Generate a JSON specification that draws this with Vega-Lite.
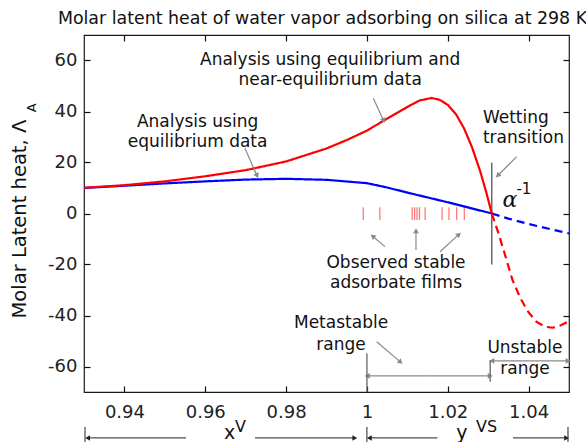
{
  "$schema": "https://vega.github.io/schema/vega-lite/v6.json",
  "width": 485,
  "height": 357,
  "autosize": {"type": "none"},
  "padding": {"left": 84, "top": 35, "right": 17, "bottom": 50},
  "background": "white",
  "config": {
    "font": "DejaVu Sans",
    "view": {"stroke": "#1a1a1a", "strokeWidth": 1.2},
    "axis": {
      "domain": false,
      "grid": false,
      "ticks": true,
      "tickColor": "#111111",
      "tickSize": 6,
      "tickWidth": 1.2,
      "offset": -6,
      "labelFont": "DejaVu Sans",
      "labelFontSize": 18,
      "labelColor": "#222222",
      "title": null
    },
    "text": {"font": "DejaVu Sans", "fontSize": 17, "color": "#111111"}
  },
  "title": {
    "text": "Molar latent heat of water vapor adsorbing on silica at 298 K",
    "font": "DejaVu Sans",
    "fontSize": 17.4,
    "fontWeight": "normal",
    "color": "#111111",
    "anchor": "middle",
    "offset": 7,
    "dx": -4
  },
  "datasets": {
    "curves": [
      {"x": 0.930, "L": 10.0, "analysis": "equilibrium", "branch": "stable"},
      {"x": 0.940, "L": 10.9, "analysis": "equilibrium", "branch": "stable"},
      {"x": 0.950, "L": 11.8, "analysis": "equilibrium", "branch": "stable"},
      {"x": 0.960, "L": 12.6, "analysis": "equilibrium", "branch": "stable"},
      {"x": 0.970, "L": 13.3, "analysis": "equilibrium", "branch": "stable"},
      {"x": 0.980, "L": 13.6, "analysis": "equilibrium", "branch": "stable"},
      {"x": 0.990, "L": 13.2, "analysis": "equilibrium", "branch": "stable"},
      {"x": 1.000, "L": 11.9, "analysis": "equilibrium", "branch": "stable"},
      {"x": 1.005, "L": 10.2, "analysis": "equilibrium", "branch": "stable"},
      {"x": 1.010, "L": 8.2, "analysis": "equilibrium", "branch": "stable"},
      {"x": 1.015, "L": 6.3, "analysis": "equilibrium", "branch": "stable"},
      {"x": 1.020, "L": 4.4, "analysis": "equilibrium", "branch": "stable"},
      {"x": 1.025, "L": 2.4, "analysis": "equilibrium", "branch": "stable"},
      {"x": 1.0309, "L": 0.0, "analysis": "equilibrium", "branch": "stable"},
      {"x": 1.0309, "L": 0.0, "analysis": "equilibrium", "branch": "unstable"},
      {"x": 1.035, "L": -2.0, "analysis": "equilibrium", "branch": "unstable"},
      {"x": 1.040, "L": -4.1, "analysis": "equilibrium", "branch": "unstable"},
      {"x": 1.045, "L": -6.0, "analysis": "equilibrium", "branch": "unstable"},
      {"x": 1.050, "L": -7.8, "analysis": "equilibrium", "branch": "unstable"},
      {"x": 0.930, "L": 10.1, "analysis": "near-equilibrium", "branch": "stable"},
      {"x": 0.940, "L": 11.1, "analysis": "near-equilibrium", "branch": "stable"},
      {"x": 0.950, "L": 12.6, "analysis": "near-equilibrium", "branch": "stable"},
      {"x": 0.960, "L": 14.6, "analysis": "near-equilibrium", "branch": "stable"},
      {"x": 0.970, "L": 17.0, "analysis": "near-equilibrium", "branch": "stable"},
      {"x": 0.980, "L": 20.4, "analysis": "near-equilibrium", "branch": "stable"},
      {"x": 0.990, "L": 25.5, "analysis": "near-equilibrium", "branch": "stable"},
      {"x": 0.995, "L": 28.8, "analysis": "near-equilibrium", "branch": "stable"},
      {"x": 1.000, "L": 32.5, "analysis": "near-equilibrium", "branch": "stable"},
      {"x": 1.005, "L": 37.2, "analysis": "near-equilibrium", "branch": "stable"},
      {"x": 1.010, "L": 41.8, "analysis": "near-equilibrium", "branch": "stable"},
      {"x": 1.013, "L": 44.3, "analysis": "near-equilibrium", "branch": "stable"},
      {"x": 1.016, "L": 45.3, "analysis": "near-equilibrium", "branch": "stable"},
      {"x": 1.018, "L": 44.6, "analysis": "near-equilibrium", "branch": "stable"},
      {"x": 1.020, "L": 42.6, "analysis": "near-equilibrium", "branch": "stable"},
      {"x": 1.022, "L": 39.0, "analysis": "near-equilibrium", "branch": "stable"},
      {"x": 1.024, "L": 33.5, "analysis": "near-equilibrium", "branch": "stable"},
      {"x": 1.026, "L": 26.0, "analysis": "near-equilibrium", "branch": "stable"},
      {"x": 1.028, "L": 16.7, "analysis": "near-equilibrium", "branch": "stable"},
      {"x": 1.0295, "L": 8.5, "analysis": "near-equilibrium", "branch": "stable"},
      {"x": 1.0309, "L": 0.0, "analysis": "near-equilibrium", "branch": "stable"},
      {"x": 1.0309, "L": 0.0, "analysis": "near-equilibrium", "branch": "unstable"},
      {"x": 1.0325, "L": -7.5, "analysis": "near-equilibrium", "branch": "unstable"},
      {"x": 1.034, "L": -15.3, "analysis": "near-equilibrium", "branch": "unstable"},
      {"x": 1.036, "L": -26.0, "analysis": "near-equilibrium", "branch": "unstable"},
      {"x": 1.038, "L": -33.3, "analysis": "near-equilibrium", "branch": "unstable"},
      {"x": 1.040, "L": -38.8, "analysis": "near-equilibrium", "branch": "unstable"},
      {"x": 1.042, "L": -42.5, "analysis": "near-equilibrium", "branch": "unstable"},
      {"x": 1.044, "L": -44.4, "analysis": "near-equilibrium", "branch": "unstable"},
      {"x": 1.046, "L": -44.8, "analysis": "near-equilibrium", "branch": "unstable"},
      {"x": 1.048, "L": -43.8, "analysis": "near-equilibrium", "branch": "unstable"},
      {"x": 1.050, "L": -42.2, "analysis": "near-equilibrium", "branch": "unstable"}
    ],
    "films": [
      {"x": 0.9991}, {"x": 1.0032}, {"x": 1.0112}, {"x": 1.0118}, {"x": 1.0124},
      {"x": 1.0130}, {"x": 1.0144}, {"x": 1.0186}, {"x": 1.0203}, {"x": 1.0222}, {"x": 1.0241}
    ],
    "transition": [
      {"x": 1.0309, "y": -20, "y2": 20}
    ],
    "pointers": [
      {"x": 1.00158, "y": 45.2, "x2": 1.00405, "y2": 36.7, "heading": 155},
      {"x": 0.96983, "y": 25.6, "x2": 0.97273, "y2": 15.1, "heading": 156},
      {"x": 1.03706, "y": 22.3, "x2": 1.03251, "y2": 15.1, "heading": 225},
      {"x": 1.00447, "y": -13.0, "x2": 1.00158, "y2": -9.1, "heading": 310},
      {"x": 1.01214, "y": -14.3, "x2": 1.01214, "y2": -7.1, "heading": 0},
      {"x": 1.01808, "y": -15.0, "x2": 1.02261, "y2": -8.4, "heading": 48},
      {"x": 1.00242, "y": -50.3, "x2": 1.00818, "y2": -58.1, "heading": 131},
      {"x": 1.0153, "y": -63.7, "x2": 1.0003, "y2": -63.7, "heading": 270},
      {"x": 1.0153, "y": -63.7, "x2": 1.0303, "y2": -63.7, "heading": 90},
      {"x": 1.0404, "y": -57.8, "x2": 1.0311, "y2": -57.8, "heading": 270},
      {"x": 1.0404, "y": -57.8, "x2": 1.0496, "y2": -57.8, "heading": 90}
    ],
    "rangeBars": [
      {"x": 1.0, "y": -54.8, "y2": -70},
      {"x": 1.0305, "y": -57.5, "y2": -66}
    ],
    "spans": [
      {"x": 0.95524, "y": -88, "x2": 0.93110, "y2": -88, "heading": 270},
      {"x": 0.97231, "y": -88, "x2": 0.99680, "y2": -88, "heading": 90},
      {"x": 1.01746, "y": -88, "x2": 1.00080, "y2": -88, "heading": 270},
      {"x": 1.03614, "y": -88, "x2": 1.04920, "y2": -88, "heading": 90}
    ],
    "spanBars": [
      {"x": 0.93025, "y": -83.7, "y2": -92},
      {"x": 1.0, "y": -83.7, "y2": -92},
      {"x": 1.04975, "y": -83.7, "y2": -92}
    ],
    "notes": [
      {"x": 0.9909, "y": 60.2, "label": "Analysis using equilibrium and"},
      {"x": 0.9909, "y": 52.4, "label": "near-equilibrium data"},
      {"x": 0.9581, "y": 35.9, "label": "Analysis using"},
      {"x": 0.9581, "y": 28.2, "label": "equilibrium data"},
      {"x": 1.0072, "y": -19.4, "label": "Observed stable"},
      {"x": 1.0072, "y": -27.3, "label": "adsorbate films"},
      {"x": 0.9936, "y": -43.1, "label": "Metastable"},
      {"x": 0.9936, "y": -51.6, "label": "range"},
      {"x": 1.0391, "y": -52.9, "label": "Unstable"},
      {"x": 1.0391, "y": -61.1, "label": "range"}
    ],
    "leftNotes": [
      {"x": 1.0287, "y": 37.3, "label": "Wetting"},
      {"x": 1.0287, "y": 29.5, "label": "transition"}
    ]
  },
  "layer": [
    {
      "data": {"name": "films"},
      "mark": {"type": "rule", "color": "#ff4d4d", "strokeWidth": 1.3, "opacity": 0.75},
      "encoding": {
        "x": {
          "field": "x", "type": "quantitative",
          "scale": {"domain": [0.93, 1.05], "nice": false, "zero": false},
          "axis": {"orient": "top", "values": [0.94, 0.96, 0.98, 1.0, 1.02, 1.04], "labels": false}
        },
        "y": {
          "datum": -2.5, "type": "quantitative",
          "scale": {"domain": [-70, 70], "nice": false, "zero": false},
          "axis": {"orient": "right", "values": [-60, -40, -20, 0, 20, 40, 60], "labels": false}
        },
        "y2": {"datum": 2.5}
      }
    },
    {
      "mark": {"type": "rule", "color": "#5a5a5a", "strokeWidth": 1},
      "encoding": {
        "y": {"datum": 0, "type": "quantitative", "scale": {"domain": [-70, 70], "nice": false, "zero": false}, "axis": null}
      }
    },
    {
      "data": {"name": "transition"},
      "mark": {"type": "rule", "color": "#444444", "strokeWidth": 1.2, "clip": false},
      "encoding": {
        "x": {"field": "x", "type": "quantitative", "scale": {"domain": [0.93, 1.05], "nice": false, "zero": false}, "axis": null},
        "y": {"field": "y", "type": "quantitative", "scale": {"domain": [-70, 70], "nice": false, "zero": false}, "axis": null},
        "y2": {"field": "y2"}
      }
    },
    {
      "data": {"name": "curves"},
      "mark": {"type": "line", "strokeWidth": 2.2, "clip": true},
      "encoding": {
        "x": {
          "field": "x", "type": "quantitative",
          "scale": {"domain": [0.93, 1.05], "nice": false, "zero": false},
          "axis": {"orient": "bottom", "values": [0.94, 0.96, 0.98, 1.0, 1.02, 1.04], "labelExpr": "'' + datum.value", "labelPadding": 11}
        },
        "y": {
          "field": "L", "type": "quantitative",
          "scale": {"domain": [-70, 70], "nice": false, "zero": false},
          "axis": {"orient": "left", "values": [-60, -40, -20, 0, 20, 40, 60], "labelExpr": "'' + datum.value", "labelPadding": 7}
        },
        "color": {
          "field": "analysis", "type": "nominal",
          "scale": {"domain": ["equilibrium", "near-equilibrium"], "range": ["#0000ff", "#ff0000"]},
          "legend": null
        },
        "strokeDash": {
          "field": "branch", "type": "nominal",
          "scale": {"domain": ["stable", "unstable"], "range": [[1, 0], [8, 5]]},
          "legend": null
        }
      }
    },
    {
      "data": {"name": "pointers"},
      "mark": {"type": "rule", "color": "#8a8a8a", "strokeWidth": 1.2, "clip": false},
      "encoding": {
        "x": {"field": "x", "type": "quantitative", "scale": {"domain": [0.93, 1.05], "nice": false, "zero": false}, "axis": null},
        "y": {"field": "y", "type": "quantitative", "scale": {"domain": [-70, 70], "nice": false, "zero": false}, "axis": null},
        "x2": {"field": "x2"},
        "y2": {"field": "y2"}
      }
    },
    {
      "data": {"name": "pointers"},
      "mark": {"type": "point", "shape": "triangle", "filled": true, "color": "#8a8a8a", "size": 34, "opacity": 1, "clip": false},
      "encoding": {
        "x": {"field": "x2", "type": "quantitative", "scale": {"domain": [0.93, 1.05], "nice": false, "zero": false}, "axis": null},
        "y": {"field": "y2", "type": "quantitative", "scale": {"domain": [-70, 70], "nice": false, "zero": false}, "axis": null},
        "angle": {"field": "heading", "type": "quantitative", "scale": null}
      }
    },
    {
      "data": {"name": "rangeBars"},
      "mark": {"type": "rule", "color": "#666666", "strokeWidth": 1.3, "clip": false},
      "encoding": {
        "x": {"field": "x", "type": "quantitative", "scale": {"domain": [0.93, 1.05], "nice": false, "zero": false}, "axis": null},
        "y": {"field": "y", "type": "quantitative", "scale": {"domain": [-70, 70], "nice": false, "zero": false}, "axis": null},
        "y2": {"field": "y2"}
      }
    },
    {
      "data": {"name": "spans"},
      "mark": {"type": "rule", "color": "#222222", "strokeWidth": 1, "clip": false},
      "encoding": {
        "x": {"field": "x", "type": "quantitative", "scale": {"domain": [0.93, 1.05], "nice": false, "zero": false}, "axis": null},
        "y": {"field": "y", "type": "quantitative", "scale": {"domain": [-70, 70], "nice": false, "zero": false}, "axis": null},
        "x2": {"field": "x2"},
        "y2": {"field": "y2"}
      }
    },
    {
      "data": {"name": "spans"},
      "mark": {"type": "point", "shape": "triangle", "filled": true, "color": "#222222", "size": 30, "opacity": 1, "clip": false},
      "encoding": {
        "x": {"field": "x2", "type": "quantitative", "scale": {"domain": [0.93, 1.05], "nice": false, "zero": false}, "axis": null},
        "y": {"field": "y2", "type": "quantitative", "scale": {"domain": [-70, 70], "nice": false, "zero": false}, "axis": null},
        "angle": {"field": "heading", "type": "quantitative", "scale": null}
      }
    },
    {
      "data": {"name": "spanBars"},
      "mark": {"type": "rule", "color": "#222222", "strokeWidth": 1, "clip": false},
      "encoding": {
        "x": {"field": "x", "type": "quantitative", "scale": {"domain": [0.93, 1.05], "nice": false, "zero": false}, "axis": null},
        "y": {"field": "y", "type": "quantitative", "scale": {"domain": [-70, 70], "nice": false, "zero": false}, "axis": null},
        "y2": {"field": "y2"}
      }
    },
    {
      "data": {"name": "notes"},
      "mark": {"type": "text", "align": "center", "baseline": "middle", "fontSize": 17, "clip": false},
      "encoding": {
        "x": {"field": "x", "type": "quantitative", "scale": {"domain": [0.93, 1.05], "nice": false, "zero": false}, "axis": null},
        "y": {"field": "y", "type": "quantitative", "scale": {"domain": [-70, 70], "nice": false, "zero": false}, "axis": null},
        "text": {"field": "label"}
      }
    },
    {
      "data": {"name": "leftNotes"},
      "mark": {"type": "text", "align": "left", "baseline": "middle", "fontSize": 17, "clip": false},
      "encoding": {
        "x": {"field": "x", "type": "quantitative", "scale": {"domain": [0.93, 1.05], "nice": false, "zero": false}, "axis": null},
        "y": {"field": "y", "type": "quantitative", "scale": {"domain": [-70, 70], "nice": false, "zero": false}, "axis": null},
        "text": {"field": "label"}
      }
    },
    {
      "data": {"values": [{"x": 1.0354, "y": 5.2, "label": "α"}]},
      "mark": {"type": "text", "align": "center", "baseline": "middle", "font": "DejaVu Serif", "fontStyle": "italic", "fontSize": 22, "clip": false},
      "encoding": {
        "x": {"field": "x", "type": "quantitative", "scale": {"domain": [0.93, 1.05], "nice": false, "zero": false}, "axis": null},
        "y": {"field": "y", "type": "quantitative", "scale": {"domain": [-70, 70], "nice": false, "zero": false}, "axis": null},
        "text": {"field": "label"}
      }
    },
    {
      "data": {"values": [{"x": 1.03885, "y": 9.6, "label": "-1"}]},
      "mark": {"type": "text", "align": "center", "baseline": "middle", "fontSize": 15, "clip": false},
      "encoding": {
        "x": {"field": "x", "type": "quantitative", "scale": {"domain": [0.93, 1.05], "nice": false, "zero": false}, "axis": null},
        "y": {"field": "y", "type": "quantitative", "scale": {"domain": [-70, 70], "nice": false, "zero": false}, "axis": null},
        "text": {"field": "label"}
      }
    },
    {
      "data": {"values": [{"x": 0.91553, "y": -2.2, "label": "Molar Latent heat, Λ"}]},
      "mark": {"type": "text", "align": "center", "baseline": "alphabetic", "angle": 270, "fontSize": 19.5, "clip": false},
      "encoding": {
        "x": {"field": "x", "type": "quantitative", "scale": {"domain": [0.93, 1.05], "nice": false, "zero": false}, "axis": null},
        "y": {"field": "y", "type": "quantitative", "scale": {"domain": [-70, 70], "nice": false, "zero": false}, "axis": null},
        "text": {"field": "label"}
      }
    },
    {
      "data": {"values": [{"x": 0.91812, "y": 41.5, "label": "A"}]},
      "mark": {"type": "text", "align": "center", "baseline": "alphabetic", "angle": 270, "fontSize": 13, "clip": false},
      "encoding": {
        "x": {"field": "x", "type": "quantitative", "scale": {"domain": [0.93, 1.05], "nice": false, "zero": false}, "axis": null},
        "y": {"field": "y", "type": "quantitative", "scale": {"domain": [-70, 70], "nice": false, "zero": false}, "axis": null},
        "text": {"field": "label"}
      }
    },
    {
      "data": {"values": [{"x": 0.96600, "y": -88.6, "label": "x"}, {"x": 1.02352, "y": -88.6, "label": "y"}]},
      "mark": {"type": "text", "align": "center", "baseline": "alphabetic", "fontSize": 19, "clip": false},
      "encoding": {
        "x": {"field": "x", "type": "quantitative", "scale": {"domain": [0.93, 1.05], "nice": false, "zero": false}, "axis": null},
        "y": {"field": "y", "type": "quantitative", "scale": {"domain": [-70, 70], "nice": false, "zero": false}, "axis": null},
        "text": {"field": "label"}
      }
    },
    {
      "data": {"values": [{"x": 0.96872, "y": -83.6, "label": "V"}, {"x": 1.02959, "y": -83.6, "label": "VS"}]},
      "mark": {"type": "text", "align": "center", "baseline": "middle", "fontSize": 16, "clip": false},
      "encoding": {
        "x": {"field": "x", "type": "quantitative", "scale": {"domain": [0.93, 1.05], "nice": false, "zero": false}, "axis": null},
        "y": {"field": "y", "type": "quantitative", "scale": {"domain": [-70, 70], "nice": false, "zero": false}, "axis": null},
        "text": {"field": "label"}
      }
    }
  ],
  "resolve": {"axis": {"x": "independent", "y": "independent"}}
}
